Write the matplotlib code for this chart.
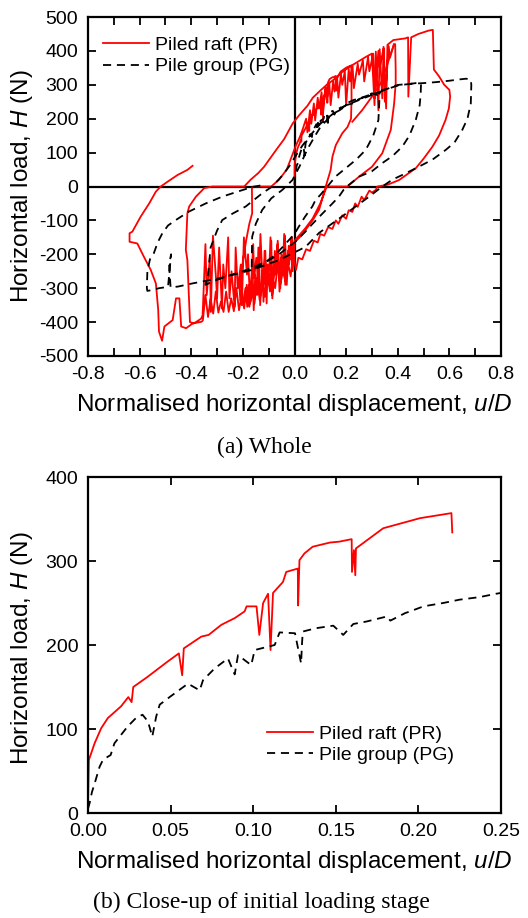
import numpy as np
import matplotlib
matplotlib.use('Agg')
import matplotlib.pyplot as plt
from matplotlib.ticker import MultipleLocator, FormatStrFormatter

plt.rcParams['font.family'] = ['Liberation Sans', 'DejaVu Sans']
plt.rcParams['mathtext.fontset'] = 'custom'
plt.rcParams['mathtext.it'] = 'Liberation Sans:italic'
plt.rcParams['mathtext.rm'] = 'Liberation Sans'
plt.rcParams['axes.unicode_minus'] = False

# ---------------- initial loading (close-up, panel b; also start of panel a) ----------------
pr_init_u = [0.0, 0.0005, 0.004, 0.008, 0.012, 0.020, 0.0244, 0.0264, 0.0274, 0.036, 0.048, 0.055,
             0.057, 0.058, 0.0686, 0.073, 0.0807, 0.0888, 0.0948, 0.096, 0.102, 0.1037, 0.106, 0.109,
             0.1105, 0.112, 0.118, 0.120, 0.127, 0.1272, 0.128, 0.131, 0.136, 0.1465, 0.152, 0.1596,
             0.1598, 0.161, 0.1618, 0.1622, 0.1787, 0.201, 0.220, 0.2205]
pr_init_h = [8, 63, 83, 101, 113, 127, 138, 132, 150, 162, 180, 190,
             164, 196, 210, 212, 224, 232, 240, 246, 246, 212, 250, 261,
             194, 262, 275, 287, 291, 247, 301, 309, 317, 322, 323, 326,
             287, 313, 283, 315, 339, 351, 357, 334]

pg_init_u = [0.0, 0.001, 0.0024, 0.004, 0.007, 0.009, 0.012, 0.0137, 0.016, 0.020, 0.024, 0.029,
             0.033, 0.0363, 0.0389, 0.0413, 0.0434, 0.0494, 0.0605, 0.0676, 0.0696, 0.0766, 0.0847,
             0.0888, 0.0908, 0.0988, 0.1009, 0.113, 0.116, 0.1253, 0.129, 0.1295, 0.130, 0.138,
             0.1485, 0.1545, 0.1606, 0.1687, 0.181, 0.183, 0.192, 0.195, 0.203, 0.215, 0.225,
             0.237, 0.247, 0.25]
pg_init_h = [5, 12, 25, 35, 55, 63, 67, 69, 83, 93, 103, 113,
             117, 109, 91, 115, 129, 138, 154, 146, 158, 172, 184,
             165, 188, 176, 194, 200, 215, 214, 178, 200, 216, 220,
             223, 212, 225, 228, 234, 229, 238, 240, 246, 250, 254,
             257, 261, 262]

# ---------------- whole test (panel a) : piled raft ----------------
pr_unload1_u = [0.2205, 0.221, 0.219, 0.205, 0.185, 0.16, 0.147, 0.14, 0.121]
pr_unload1_h = [334, 260, 200, 175, 157, 122, 88, 49, 0]

pr_neg1_u = [0.121, 0.095, 0.07, 0.043, 0.02, 0.0, -0.007, -0.012, -0.021, -0.025, -0.036, -0.04,
             -0.046, -0.052, -0.058, -0.066, -0.07, -0.075, -0.086, -0.09, -0.095, -0.104, -0.108,
             -0.113, -0.121, -0.126, -0.133, -0.14, -0.145, -0.152, -0.158, -0.163, -0.17, -0.176,
             -0.183, -0.19, -0.2, -0.21]
pr_neg1_h = [0, -69, -100, -128, -150, -165, -250, -150, -230, -190, -290, -140,
             -260, -210, -310, -170, -250, -200, -330, -160, -300, -230, -345,
             -190, -290, -250, -350, -180, -320, -260, -365, -230, -340, -290,
             -355, -300, -345, -335]

pr_rev1_u = [-0.213, -0.2, -0.187, -0.175, -0.164, -0.165, -0.16, -0.09, -0.06, -0.03, -0.01,
             0.005, 0.02, 0.03]
pr_rev1_h = [-300, -220, -158, -110, -79, -5, 0, 0, 20, 50, 90, 120, 145, 165]

pr_env2_u = [0.045, 0.05, 0.06, 0.065, 0.075, 0.08, 0.09, 0.095, 0.105, 0.11, 0.12, 0.125, 0.135,
             0.14, 0.15, 0.155, 0.165, 0.17, 0.18, 0.185, 0.195, 0.2, 0.21, 0.215, 0.225, 0.23,
             0.245, 0.25, 0.265, 0.27, 0.285, 0.29, 0.305, 0.31, 0.325, 0.33, 0.345, 0.35, 0.365,
             0.37, 0.385]
pr_env2_h = [200, 160, 225, 185, 245, 195, 262, 230, 278, 215, 292, 255, 303,
             240, 312, 280, 322, 262, 332, 300, 340, 240, 347, 310, 355, 290,
             362, 330, 372, 310, 382, 340, 392, 260, 400, 350, 408, 250, 414,
             380, 420]

pr_unload2_u = [0.39, 0.392, 0.392, 0.386, 0.373, 0.34, 0.3, 0.25, 0.205, 0.125, 0.1, 0.07, 0.04, 0.0]
pr_unload2_h = [420, 344, 304, 245, 167, 98, 58, 29, 0, 0, -50, -95, -125, -160]

pr_neg2_u = [-0.006, -0.01, -0.018, -0.022, -0.03, -0.037, -0.041, -0.051, -0.055, -0.065, -0.072,
             -0.076, -0.086, -0.093, -0.097, -0.108, -0.116, -0.12, -0.132, -0.138, -0.148, -0.156,
             -0.16, -0.172, -0.18, -0.184, -0.196, -0.204, -0.208, -0.22, -0.228, -0.232, -0.244,
             -0.252, -0.257, -0.268, -0.276, -0.281, -0.292, -0.3, -0.305, -0.316, -0.324, -0.328,
             -0.34, -0.345, -0.356, -0.362, -0.39, -0.405]
pr_neg2_h = [-230, -150, -215, -175, -290, -145, -250, -200, -300, -160, -260,
             -190, -320, -150, -230, -280, -190, -340, -140, -300, -210, -270,
             -170, -345, -200, -260, -150, -350, -230, -300, -180, -355, -250,
             -330, -150, -300, -230, -360, -180, -330, -260, -145, -370, -210,
             -320, -170, -380, -390, -404, -400]

pr_rev2_u = [-0.415, -0.421, -0.415, -0.408, -0.382, -0.35, -0.318, -0.195, -0.17, -0.14, -0.118,
             -0.071, -0.04, -0.007, 0.02, 0.05, 0.071, 0.1, 0.125, 0.15, 0.18, 0.213, 0.25, 0.278,
             0.3, 0.31, 0.315, 0.325, 0.33, 0.34, 0.345, 0.355, 0.36, 0.383, 0.43, 0.44, 0.441,
             0.452, 0.48, 0.5, 0.52, 0.536, 0.54, 0.56, 0.58, 0.6, 0.603, 0.598, 0.585, 0.56,
             0.534, 0.5, 0.47, 0.405, 0.36, 0.321]
pr_rev2_h = [-217, -187, -79, -59, -30, -5, 0, 0, 20, 40, 58,
             108, 140, 186, 212, 238, 262, 283, 300, 314, 335, 353, 370, 383,
             392, 240, 398, 225, 405, 260, 412, 230, 418, 432, 437, 440, 265,
             440, 450, 455, 460, 462, 345, 325, 300, 285, 265, 230, 196, 150,
             117, 82, 54, 19, 5, 0]

pr_neg3_u = [0.315, 0.3, 0.29, 0.27, 0.26, 0.245, 0.235, 0.224, 0.21, 0.2, 0.185, 0.17, 0.16,
             0.147, 0.13, 0.115, 0.1, 0.09, 0.075, 0.06, 0.045, 0.03, 0.015, 0.006, -0.005,
             -0.015, -0.025, -0.035, -0.045, -0.055, -0.065, -0.075, -0.085, -0.095, -0.105,
             -0.115, -0.125, -0.135, -0.145, -0.155, -0.165, -0.175, -0.185, -0.195, -0.205,
             -0.215, -0.225, -0.235, -0.245, -0.255, -0.265, -0.275, -0.285, -0.295, -0.305,
             -0.315, -0.325, -0.335, -0.345, -0.355, -0.36, -0.394, -0.42, -0.439, -0.446,
             -0.459, -0.472, -0.504, -0.513, -0.525, -0.528, -0.537, -0.557, -0.585, -0.609,
             -0.639, -0.639, -0.628, -0.596, -0.563, -0.537, -0.518, -0.492, -0.453, -0.415,
             -0.395]
pr_neg3_h = [-10, -18, -12, -40, -30, -60, -50, -75, -70, -95, -85, -110, -100,
             -125, -120, -145, -140, -165, -160, -190, -185, -215, -210, -246, -200,
             -265, -225, -280, -250, -290, -230, -300, -270, -310, -250,
             -325, -290, -335, -270, -345, -300, -355, -290, -360, -320,
             -365, -300, -368, -330, -370, -310, -370, -340, -372, -310,
             -375, -330, -385, -320, -395, -399, -404, -418, -413, -330,
             -330, -394, -413, -455, -428, -364, -286, -246, -205, -168,
             -163, -138, -133, -89, -50, -15, 0, 14, 34, 49,
             61]

pr_inner_u = [0.224, 0.263, 0.30, 0.334, 0.353, 0.37, 0.385]
pr_inner_h = [191, 226, 265, 304, 344, 385, 418]

# ---------------- whole test (panel a) : pile group ----------------
pg_c1_u = [0.26, 0.275, 0.29, 0.3, 0.315, 0.33, 0.328, 0.325, 0.305, 0.276, 0.24, 0.2, 0.16,
           0.127, 0.1, 0.082, 0.069, 0.04, 0.017, 0.0, -0.03, -0.06, -0.09, -0.12, -0.15, -0.164]
pg_c1_h = [262, 266, 270, 268, 276, 278, 240, 196, 150, 108, 80, 55, 30,
           0, -25, -39, -59, -90, -118, -140, -165, -190, -210, -228, -240, -246]

pg_rev1_u = [-0.166, -0.165, -0.164, -0.15, -0.125, -0.09, -0.047, -0.008, 0.02, 0.05, 0.08, 0.1,
             0.13, 0.15, 0.175, 0.2, 0.225, 0.25, 0.276, 0.3, 0.32, 0.34, 0.36, 0.38, 0.405, 0.44,
             0.47, 0.489]
pg_rev1_h = [-240, -200, -148, -110, -69, -35, -10, 19, 60, 110, 150, 175,
             200, 215, 225, 240, 245, 258, 265, 275, 270, 285, 288, 295, 300, 302,
             305, 305]

pg_unload2_u = [0.49, 0.489, 0.485, 0.47, 0.445, 0.418, 0.38, 0.34, 0.3, 0.25, 0.211, 0.19, 0.172,
                0.147, 0.108, 0.07, 0.04, 0.0, -0.06, -0.1, -0.15, -0.2, -0.25, -0.3, -0.33, -0.345]
pg_unload2_h = [300, 275, 240, 197, 150, 118, 90, 69, 45, 29, 5, -10, -30,
                -50, -80, -110, -135, -165, -200, -218, -235, -250, -262, -275, -285, -290]

pg_rev2_u = [-0.345, -0.335, -0.33, -0.325, -0.3, -0.28, -0.24, -0.189, -0.125, -0.086, -0.05,
             -0.02, 0.0, 0.03, 0.06, 0.1, 0.15, 0.2, 0.25, 0.3, 0.35, 0.4, 0.45, 0.5, 0.55, 0.6,
             0.64, 0.665, 0.683]
pg_rev2_h = [-290, -260, -220, -180, -130, -99, -80, -59, -20, 0, 30,
             60, 85, 120, 150, 185, 215, 240, 255, 270, 285, 298, 303, 305, 308, 312,
             316, 318, 315]

pg_unload3_u = [0.685, 0.683, 0.67, 0.65, 0.62, 0.586, 0.534, 0.483, 0.431, 0.379, 0.34, 0.289,
                0.237, 0.185, 0.095, 0.043, -0.06, -0.164, -0.293, -0.396, -0.45, -0.48, -0.486,
                -0.478, -0.49, -0.525, -0.55, -0.57]
pg_unload3_h = [300, 245, 200, 167, 130, 108, 79, 59, 39, 20, 0, -30,
                -59, -88, -137, -178, -217, -246, -271, -286, -295, -298, -230,
                -200, -296, -300, -305, -308]

pg_rev3_u = [-0.572, -0.57, -0.56, -0.545, -0.53, -0.512, -0.49, -0.46, -0.409, -0.344, -0.28,
             -0.22, -0.17, -0.12]
pg_rev3_h = [-300, -250, -215, -197, -165, -138, -115, -99, -74, -50, -30, -15, -3, 5]

# ---------------- text ----------------
legend_labels = ['Piled raft (PR)', 'Pile group (PG)']
xlabel = 'Normalised horizontal displacement, $\\mathit{u/D}$'
ylabel = 'Horizontal load, $\\mathit{H}$ (N)'
caption_a = '(a) Whole'
caption_b = '(b) Close-up of initial loading stage'

RED = '#ff0000'
LW = 1.3
DASH = (0, (4.5, 3.2))

W, Hpx = 528, 918
fig = plt.figure(figsize=(W / 100, Hpx / 100), dpi=100)
ax1 = fig.add_axes([88 / W, 1 - 356 / Hpx, 413 / W, 339 / Hpx])
ax2 = fig.add_axes([88 / W, 1 - 813 / Hpx, 413 / W, 336 / Hpx])

# panel a
pr_u = np.concatenate([pr_init_u, pr_unload1_u, pr_neg1_u, pr_rev1_u, pr_env2_u,
                       pr_unload2_u, pr_neg2_u, pr_rev2_u, pr_neg3_u])
pr_h = np.concatenate([pr_init_h, pr_unload1_h, pr_neg1_h, pr_rev1_h, pr_env2_h,
                       pr_unload2_h, pr_neg2_h, pr_rev2_h, pr_neg3_h])
pg_u = np.concatenate([pg_init_u, pg_c1_u, pg_rev1_u, pg_unload2_u, pg_rev2_u,
                       pg_unload3_u, pg_rev3_u])
pg_h = np.concatenate([pg_init_h, pg_c1_h, pg_rev1_h, pg_unload2_h, pg_rev2_h,
                       pg_unload3_h, pg_rev3_h])

ax1.axhline(0, color='black', lw=1.6, zorder=1)
ax1.axvline(0, color='black', lw=1.6, zorder=1)
ax1.plot(pr_u, pr_h, color=RED, lw=LW, zorder=3, label=legend_labels[0])
ax1.plot(pr_inner_u, pr_inner_h, color=RED, lw=LW, zorder=3)
ax1.plot(pg_u, pg_h, color='black', lw=LW, ls=DASH, zorder=4, label=legend_labels[1])

ax1.set_xlim(-0.8, 0.8)
ax1.set_ylim(-500, 500)
ax1.xaxis.set_major_locator(MultipleLocator(0.2))
ax1.xaxis.set_minor_locator(MultipleLocator(0.1))
ax1.xaxis.set_major_formatter(FormatStrFormatter('%.1f'))
ax1.yaxis.set_major_locator(MultipleLocator(100))

# panel b
ax2.plot(pr_init_u, pr_init_h, color=RED, lw=LW, label=legend_labels[0])
ax2.plot(pg_init_u, pg_init_h, color='black', lw=LW, ls=DASH, label=legend_labels[1])
ax2.set_xlim(0, 0.25)
ax2.set_ylim(0, 400)
ax2.xaxis.set_major_locator(MultipleLocator(0.05))
ax2.xaxis.set_major_formatter(FormatStrFormatter('%.2f'))
ax2.yaxis.set_major_locator(MultipleLocator(100))

for ax in (ax1, ax2):
    for s in ax.spines.values():
        s.set_linewidth(1.6)
    ax.tick_params(which='both', direction='in', length=6, width=1.3, top=True, right=True,
                   labelsize=14, pad=7)
    ax.set_xlabel(xlabel, fontsize=17.5)
    ax.set_ylabel(ylabel, fontsize=17.5)

ax1.yaxis.set_label_coords(-0.128, 0.5)
ax2.yaxis.set_label_coords(-0.128, 0.49)
ax1.xaxis.set_label_coords(0.5, -0.105)
ax2.xaxis.set_label_coords(0.5, -0.108)

leg_kw = dict(frameon=False, fontsize=14, handlelength=2.35, handletextpad=0.35,
              labelspacing=0.2, borderpad=0, borderaxespad=0)
ax1.legend(loc='upper left', bbox_to_anchor=(0.036, 0.943), **leg_kw)
ax2.legend(loc='upper left', bbox_to_anchor=(0.433, 0.262), **leg_kw)

fig.text(0.5, 1 - 447 / Hpx, caption_a, ha='center', va='center', fontsize=17,
         family=['Liberation Serif', 'DejaVu Serif'])
fig.text(0.495, 1 - 902 / Hpx, caption_b, ha='center', va='center', fontsize=17,
         family=['Liberation Serif', 'DejaVu Serif'])

fig.savefig('out.png', dpi=100)
